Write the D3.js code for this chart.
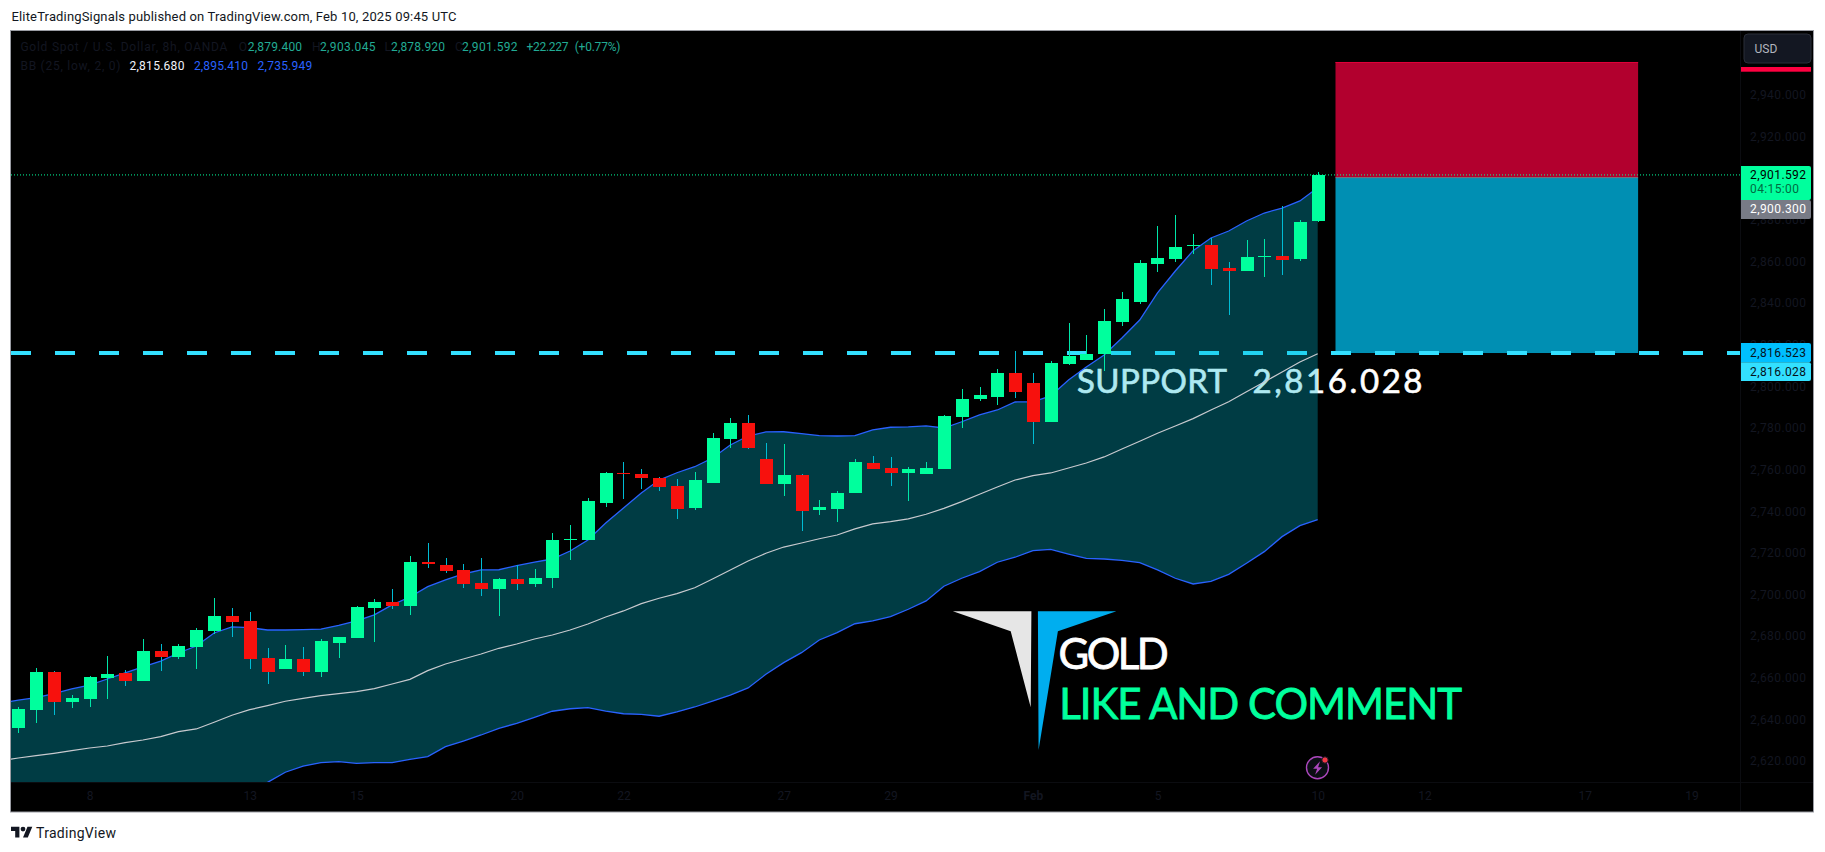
<!DOCTYPE html>
<html>
<head>
<meta charset="utf-8">
<script src="https://cdnjs.cloudflare.com/ajax/libs/d3/7.8.5/d3.min.js"></script>
<style>
html,body{margin:0;padding:0;background:#fff;overflow:hidden}
svg{display:block}
text{font-family:Roboto,"Liberation Sans",sans-serif}
</style>
</head>
<body>
<svg id="c" width="1825" height="852"></svg>
<script>
// ---------- candles (8h XAUUSD) ----------
const opens = [2636.0,2644.5,2662.8,2648.35,2649.8,2659.9,2662.3,2658.5,2672.85,2670,2674.8,2682.5,2689.7,2687.3,2669.5,2664.2,2669,2662.8,2676.7,2679.1,2693.5,2696.4,2694.5,2715.6,2714.2,2711.8,2705.5,2702.65,2707.45,2705.05,2707.9,2726.2,2726.2,2744,2758.4,2757.9,2756,2752.15,2741.55,2753.6,2774.7,2782.4,2765.1,2753.1,2757.4,2740.6,2741.1,2748.8,2763.2,2760.8,2758.4,2757.9,2760.3,2785.3,2793.9,2794.9,2806.4,2801.6,2782.9,2810.75,2812.7,2815.55,2830.9,2840.55,2858.8,2861.2,2867.45,2867.9,2856.9,2855.45,2862.2,2862.65,2861.2,2879.4];
const highs = [2646.0,2664.7,2663.1,2651.7,2661.0,2670.45,2663.7,2678.6,2676.2,2676.2,2683.9,2698.3,2693.5,2691.6,2674.3,2675.7,2674.8,2678.6,2679.6,2694.5,2697.8,2702.65,2718.5,2724.75,2717.5,2714.65,2717.5,2707.9,2714.2,2712.25,2729.55,2733.4,2746.4,2758.85,2763.7,2760.3,2756.5,2755.5,2758.85,2777.6,2784.8,2786.25,2772.8,2772.3,2757.9,2745.4,2749.7,2765.1,2766.55,2766.1,2761.3,2763.7,2786.25,2798.75,2799.7,2808.35,2817,2806.4,2812.2,2830.4,2824.7,2837.2,2845.35,2860.7,2877.1,2882.35,2873.2,2871.3,2859.75,2870.35,2870.8,2886.7,2879.95,2903.045];
const lows = [2633.6,2638.4,2642.2,2645.5,2645.95,2649.8,2656.0,2658.5,2663.25,2669,2664.2,2681,2679.6,2664.2,2657,2664.2,2660.9,2660.4,2669.5,2679.1,2677.2,2693,2690.2,2712.7,2710.3,2703.1,2699.3,2689.7,2702.15,2703.6,2703.1,2716.6,2726.2,2742,2745.9,2750.7,2749.7,2736.3,2740.6,2753.6,2770.4,2769.9,2753.1,2747.35,2730.5,2738.2,2734.8,2748.8,2760.3,2752.15,2744.9,2757.9,2760.3,2780,2793,2791,2794.4,2772.3,2782.9,2810.3,2812.7,2807.4,2829,2839.6,2854.95,2859.75,2863.6,2848.7,2834.3,2855.45,2852.55,2853.5,2860.25,2878.92];
const closes = [2645.0,2662.8,2648.5,2650.3,2660.4,2661.8,2658.5,2672.85,2670,2675.25,2682.95,2689.7,2686.8,2669,2662.8,2669,2662.8,2677.65,2679.6,2694,2696.4,2694.5,2715.6,2714.65,2711.3,2705.05,2702.65,2707.45,2705.05,2707.9,2726.2,2726.65,2744.9,2758.4,2757.9,2756,2751.65,2741.1,2755,2775.2,2782.4,2770.4,2753.1,2757.4,2740.1,2742,2748.8,2763.7,2760.3,2758.4,2760.3,2760.8,2785.8,2793.9,2795.85,2806.4,2797.3,2782.9,2811.2,2814.6,2815.55,2831.4,2842,2859.3,2861.7,2867,2867.9,2856.4,2855.45,2862.2,2862.65,2860.7,2879,2901.592];

// ---------- Bollinger bands, first entry is one candle before the first visible candle ----------
const bbUpper = [2647.9,2649.2,2650.4,2652.35,2654.6,2656.5,2659.4,2662.3,2665.2,2668,2671.9,2675.25,2681.5,2684.4,2684.05,2682.95,2682.95,2683.1,2683.4,2685.2,2687.3,2690.2,2695,2698.8,2703.75,2707,2709.85,2711.8,2711.9,2713.85,2715.6,2717.05,2720.9,2726.2,2734.35,2741.55,2748.8,2755,2758.5,2761.4,2765.6,2771.85,2776.15,2778.1,2778.2,2777.3,2776.3,2776.15,2776.3,2779.05,2780.35,2780.5,2781,2780,2783,2786.25,2788.65,2792.5,2792.6,2795.4,2803.1,2809.3,2815.1,2823.25,2831.9,2844.9,2855.45,2865.2,2871.3,2874.65,2879.45,2883.3,2885.7,2889.1,2895.41];
const bbBasis = [2620,2621.45,2622.55,2623.7,2624.95,2626.25,2627.2,2628.8,2630.1,2631.7,2634.1,2635.4,2638.6,2642,2644.65,2646.6,2648.7,2650.1,2651.4,2652.35,2653.3,2654.75,2657,2659.25,2663.4,2666.6,2669,2671.4,2674.15,2676.2,2678.6,2680.55,2682.95,2685.8,2689.2,2692.1,2695.6,2698.2,2700.4,2703.25,2707.45,2711.8,2716.1,2719.8,2722.8,2724.75,2726.8,2728.6,2731.5,2733.9,2735,2736.3,2738.55,2741.4,2744.6,2748.15,2751.65,2755,2757.1,2758.4,2760.8,2763.2,2766.1,2769.9,2773.6,2777.45,2780.95,2784.5,2788.65,2792.6,2797.45,2802.1,2806.9,2811.7,2815.68];
const bbLower = [2592.1,2593.7,2594.7,2595.05,2595.3,2596,2595,2595.3,2595,2595.4,2596.3,2595.55,2595.7,2599.6,2605.25,2609.7,2614.6,2617.5,2619.2,2619.7,2618.9,2619.2,2619.2,2620.8,2622.1,2626.9,2629.6,2632.5,2635.7,2638.1,2641,2643.9,2645.1,2645.6,2644,2642.7,2642.45,2641.5,2643.55,2645.95,2648.8,2651.7,2655.1,2661.65,2667.25,2672.05,2678.15,2681.65,2685.95,2687.3,2689.35,2692.9,2696.9,2703.95,2707.8,2711,2715.5,2717.9,2721.05,2721.7,2719.45,2717.4,2717.05,2716.4,2715.3,2711.8,2707.8,2705.05,2706.35,2709.7,2715,2720.6,2727.8,2733.05,2735.95];

// ---------- axes ----------
const priceTicks = [2620,2640,2660,2680,2700,2720,2740,2760,2780,2800,2820,2840,2860,2880,2920,2940];
const timeTickIdx = [4,13,19,28,34,43,49,57,64,73,79,88,94];
const timeTickLabels = ["8","13","15","20","22","27","29","Feb","5","10","12","17","19"];

// ---------- levels ----------
const lastPrice = 2901.592, entryPrice = 2900.3, supportPrice = 2816.028, supportLabelPrice = 2816.523, stopPrice = 2955.86;
const zoneStartIdx = 74, zoneEndIdx = 91;

// ---------- text ----------
const headerText = "EliteTradingSignals published on TradingView.com, Feb 10, 2025 09:45 UTC";
const legendRow1 = ["Gold Spot / U.S. Dollar, 8h, OANDA","O","2,879.400","H","2,903.045","L","2,878.920","C","2,901.592","+22.227","(+0.77%)"];
const legendRow2 = ["BB (25, low, 2, 0)","2,815.680","2,895.410","2,735.949"];

const svg = d3.select("#c");
const P = {l:11, r:1740, t:31, b:782};
const UP="#00ff9d", DN="#f7110d", DARK="#131621";

// scales
const x = d3.scaleLinear().domain([0,73]).range([18.3,1317.7]);
const y = d3.scaleLinear().domain([2620,2940]).range([761,95]);

// frame
svg.append("rect").attr("x",10.5).attr("y",30.5).attr("width",1803).attr("height",781.5)
  .attr("fill","#000").attr("stroke","#9a9ca3").attr("stroke-width",1);

svg.append("defs").append("clipPath").attr("id","pane").append("rect")
  .attr("x",P.l).attr("y",P.t).attr("width",P.r-P.l).attr("height",P.b-P.t);

const pane = svg.append("g").attr("clip-path","url(#pane)");

// trade zones
const zx0=x(zoneStartIdx), zx1=x(zoneEndIdx);
pane.append("rect").attr("x",zx0).attr("width",zx1-zx0).attr("y",y(stopPrice)).attr("height",y(entryPrice)-y(stopPrice)).attr("fill","#b2002e");
pane.append("rect").attr("x",zx0).attr("width",zx1-zx0).attr("y",y(entryPrice)).attr("height",y(supportPrice)-y(entryPrice)).attr("fill","#008fb3");
pane.append("line").attr("x1",zx0).attr("x2",zx1).attr("y1",y(stopPrice)+.5).attr("y2",y(stopPrice)+.5).attr("stroke","#e0003a");
pane.append("line").attr("x1",zx0).attr("x2",zx1).attr("y1",y(entryPrice)).attr("y2",y(entryPrice)).attr("stroke","#787b86");

// support line (dash phase from left of pane)
pane.append("line").attr("x1",P.l).attr("x2",P.r).attr("y1",y(supportPrice)).attr("y2",y(supportPrice))
  .attr("stroke","#33dfff").attr("stroke-width",4).attr("stroke-dasharray","20 24");

// support text goes under the band fill
function annot(parent,t,x0,base,size,w,fill,sw){
  return parent.append("text").attr("x",x0).attr("y",base).attr("fill",fill).attr("stroke",fill).attr("stroke-width",sw)
    .attr("font-size",size).style("font-family","Lato").attr("textLength",w).attr("lengthAdjust","spacing").text(t);
}
annot(pane,"SUPPORT",1077,393,33,150,"#fff",.6);
annot(pane,"2,816.028",1252.5,393,33,170,"#fff",.6);

// Bollinger
const bbIdx = bbUpper.map((_,i)=>i-1);
pane.append("path").attr("fill","#00bcd4").attr("fill-opacity",.32)
  .attr("d",d3.area().x(i=>x(i)).y0(i=>y(bbLower[i+1])).y1(i=>y(bbUpper[i+1]))(bbIdx));
const bbLine = a => d3.line().x(i=>x(i)).y(i=>y(a[i+1]))(bbIdx);
pane.append("path").attr("fill","none").attr("stroke","#2962ff").attr("stroke-width",1.3).attr("d",bbLine(bbUpper));
pane.append("path").attr("fill","none").attr("stroke","#2962ff").attr("stroke-width",1.3).attr("d",bbLine(bbLower));
pane.append("path").attr("fill","none").attr("stroke","#c8cacf").attr("stroke-width",1.2).attr("d",bbLine(bbBasis));

// candles
const cIdx = d3.range(opens.length);
const cg = pane.append("g").attr("shape-rendering","crispEdges");
cg.selectAll("line").data(cIdx).join("line")
  .attr("x1",i=>Math.round(x(i))+.5).attr("x2",i=>Math.round(x(i))+.5)
  .attr("y1",i=>y(highs[i])).attr("y2",i=>y(lows[i]))
  .attr("stroke",i=>closes[i]>=opens[i]?"#00e6a8":"#00bcd4").attr("stroke-width",1);
cg.selectAll("rect").data(cIdx).join("rect")
  .attr("x",i=>Math.round(x(i))-6).attr("width",13)
  .attr("y",i=>y(Math.max(opens[i],closes[i])))
  .attr("height",i=>Math.max(1,Math.abs(y(opens[i])-y(closes[i]))))
  .attr("fill",i=>closes[i]>=opens[i]?UP:DN);

// last price dotted
pane.append("line").attr("x1",P.l).attr("x2",P.r).attr("y1",y(lastPrice)).attr("y2",y(lastPrice))
  .attr("stroke",UP).attr("stroke-width",1).attr("stroke-dasharray","1 2");

// axes
const yAxis = d3.axisRight(y).tickValues(priceTicks).tickFormat(d3.format(",.3f")).tickSize(0).tickPadding(0);
const yg = svg.append("g").attr("transform","translate(1750,0)").call(yAxis);
yg.select(".domain").remove();
yg.selectAll("text").attr("fill",DARK).attr("font-size",12).attr("textLength",56).attr("lengthAdjust","spacing");

const xAxis = d3.axisBottom(x).tickValues(timeTickIdx).tickFormat((d,i)=>timeTickLabels[i]).tickSize(0).tickPadding(0);
const xg = svg.append("g").attr("transform","translate(0,791)").call(xAxis);
xg.select(".domain").remove();
xg.selectAll("text").attr("fill",DARK).attr("font-size",12)
  .attr("font-weight",(d,i)=>timeTickLabels[i]==="Feb"?700:400);

// axis separators
svg.append("line").attr("x1",P.l).attr("x2",1813).attr("y1",782.5).attr("y2",782.5).attr("stroke","#0b0c10");
svg.append("line").attr("x1",1740.5).attr("x2",1740.5).attr("y1",31).attr("y2",811).attr("stroke","#0b0c10");

// price boxes
function box(y0,y1,fill){svg.append("path").attr("fill",fill)
  .attr("d",`M1741 ${y0}H1809a2 2 0 0 1 2 2V${y1-2}a2 2 0 0 1-2 2H1741Z`);}
function boxText(t,yc,fill,w){svg.append("text").attr("x",1750).attr("y",yc).attr("dy",".35em")
  .attr("font-size",12).attr("fill",fill).attr("textLength",w||56).attr("lengthAdjust","spacing").text(t);}
box(166,200,UP); box(200,219,"#787b86"); box(343,362.3,"#00bfff"); box(362.3,381,"#33e0ff");
boxText(d3.format(",.3f")(lastPrice),174.5,"#000");
boxText("04:15:00",189,"#006b42",49);
boxText(d3.format(",.3f")(entryPrice),209,"#fff");
boxText(d3.format(",.3f")(supportLabelPrice),352.5,"#06121a");
boxText(d3.format(",.3f")(supportPrice),371.5,"#06121a");

// USD + red label bar
svg.append("rect").attr("x",1744).attr("y",34).attr("width",67).attr("height",29).attr("rx",4)
  .attr("fill","#131722").attr("stroke","#2a2e39");
svg.append("text").attr("x",1754.5).attr("y",48.5).attr("dy",".35em").attr("font-size",12).attr("fill","#b2b5be").text("USD");
svg.append("rect").attr("x",1741).attr("y",67).attr("width",70).attr("height",4.7).attr("fill","#ff0040");

// header & footer
svg.append("text").attr("x",11.5).attr("y",21).attr("font-size",13).attr("fill","#131722")
  .attr("textLength",445).attr("lengthAdjust","spacing").text(headerText);
svg.append("path").attr("transform","translate(11,824.3) scale(.6)").attr("fill","#131722")
  .attr("d","M14 22H7V11H0V4h14v18zM28 22h-8l7.5-18h8L28 22z");
svg.append("circle").attr("transform","translate(11,824.3) scale(.6)").attr("cx",20).attr("cy",8).attr("r",4).attr("fill","#131722");
svg.append("text").attr("x",36).attr("y",838).attr("font-size",14).attr("fill","#131722")
  .attr("textLength",80).attr("lengthAdjust","spacing").text("TradingView");

// legend
const TEAL="#22ab94", LG=DARK;
const r1x=[20.4,238.8,247.8,312,320,384.5,391,455,462,526.5,574.7];
const r1w=[207,null,54.3,null,55.5,null,54,null,55.6,42,45.7];
const r1c=[LG,LG,TEAL,LG,TEAL,LG,TEAL,LG,TEAL,TEAL,TEAL];
legendRow1.forEach((t,i)=>{const s=svg.append("text").attr("x",r1x[i]).attr("y",50.5).attr("font-size",12).attr("fill",r1c[i]).text(t);
  if(r1w[i]) s.attr("textLength",r1w[i]).attr("lengthAdjust","spacing");});
const r2x=[20.4,129.4,193.9,257.6], r2w=[100,55,54,54.6], r2c=[LG,"#f0f3fa","#2962ff","#2962ff"];
legendRow2.forEach((t,i)=>{svg.append("text").attr("x",r2x[i]).attr("y",69.5).attr("font-size",12).attr("fill",r2c[i])
  .attr("textLength",r2w[i]).attr("lengthAdjust","spacing").text(t);});

// logo
const logo = svg.append("g");
logo.append("polygon").attr("points","952.9,611.3 1031.4,611.3 1030.7,707.3 1010.7,631.3").attr("fill","#e6e6e6");
logo.append("polygon").attr("points","1037.9,611.3 1116.4,611.3 1057.9,631.3 1038.6,750").attr("fill","#00aeef");
annot(svg,"GOLD",1058.6,669.3,42,110,"#fff",.8);
annot(svg,"LIKE AND COMMENT",1059.3,718.7,42,402.7,UP,.8);

// lightning badge
const bx=1317.5, by=767.7;
svg.append("circle").attr("cx",bx).attr("cy",by).attr("r",11).attr("fill","#131722").attr("fill-opacity",.6)
  .attr("stroke","#ab47bc").attr("stroke-width",1.4);
svg.append("path").attr("d",`M${bx+2.6} ${by-6.5}l-7 7.5h4l-2 6 7-7.5h-4z`).attr("fill","#ab47bc");
svg.append("circle").attr("cx",bx+7.5).attr("cy",by-7.7).attr("r",3.2).attr("fill","#f23645").attr("stroke","#131722").attr("stroke-width",1);
</script>
</body>
</html>
